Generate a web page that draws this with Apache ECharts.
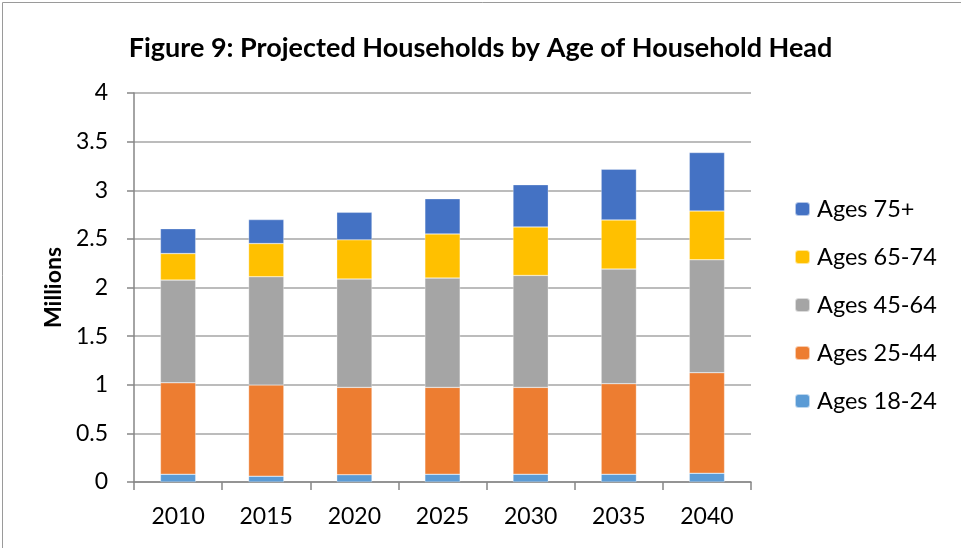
<!DOCTYPE html>
<html>
<head>
<meta charset="utf-8">
<script src="https://cdn.jsdelivr.net/npm/echarts@6/dist/echarts.min.js"></script>
<style>
  html, body { margin: 0; padding: 0; background: #fff; }
  #chart { width: 961px; height: 548px; }
</style>
</head>
<body>
<div id="chart"></div>
<script>
// categories and values (millions of households)
const years = ['2010', '2015', '2020', '2025', '2030', '2035', '2040']
const ages18to24 = [0.08, 0.06, 0.075, 0.08, 0.08, 0.08, 0.09]
const ages25to44 = [0.94, 0.937, 0.898, 0.893, 0.893, 0.931, 1.034]
const ages45to64 = [1.056, 1.114, 1.114, 1.124, 1.151, 1.178, 1.161]
const ages65to74 = [0.273, 0.341, 0.403, 0.454, 0.499, 0.506, 0.502]
const ages75plus = [0.256, 0.246, 0.283, 0.362, 0.434, 0.522, 0.601]

const font = 'Lato, "Open Sans", sans-serif'

const chart = echarts.init(document.getElementById('chart'))

const makeSeries = (name, data, color) => ({
  name,
  type: 'bar',
  stack: 'total',
  data,
  barWidth: '40%',
  itemStyle: {
    color,
    borderColor: 'rgba(255,255,255,0.6)',
    borderWidth: 0.5
  }
})

chart.setOption({
  animation: false,
  title: {
    text: 'Figure 9: Projected Households by Age of Household Head',
    left: 'center',
    top: 30,
    textStyle: { fontFamily: font, fontSize: 27, fontWeight: 'bold', color: '#000' }
  },
  graphic: [
    {
      type: 'rect',
      shape: { x: 2.5, y: 2.5, width: 1000, height: 600 },
      style: { fill: 'none', stroke: '#9a9a9a', lineWidth: 1 },
      silent: true
    }
  ],
  legend: {
    orient: 'vertical',
    left: 794,
    top: 197,
    padding: 0,
    itemWidth: 15,
    itemHeight: 14,
    itemGap: 24,
    data: ['Ages 75+', 'Ages 65-74', 'Ages 45-64', 'Ages 25-44', 'Ages 18-24'],
    textStyle: { fontFamily: font, fontSize: 23.5, color: '#000', padding: [0, 0, 0, 2] }
  },
  grid: { left: 134, right: 210, top: 93, bottom: 66 },
  xAxis: {
    type: 'category',
    data: years,
    axisLine: { lineStyle: { color: '#868686', width: 1.5 } },
    axisTick: { show: true, length: 8, lineStyle: { color: '#868686', width: 1.5 } },
    axisLabel: { fontFamily: font, fontSize: 23, color: '#000', margin: 23 }
  },
  yAxis: {
    type: 'value',
    min: 0,
    max: 4,
    interval: 0.5,
    name: 'Millions',
    nameLocation: 'middle',
    nameGap: 69,
    nameRotate: 90,
    nameTextStyle: { fontFamily: font, fontSize: 23, fontWeight: 'bold', color: '#000' },
    axisLine: { show: true, lineStyle: { color: '#868686', width: 1.5 } },
    axisTick: { show: true, length: 7, lineStyle: { color: '#868686', width: 1.5 } },
    axisLabel: { fontFamily: font, fontSize: 23, color: '#000', margin: 26 },
    splitLine: { lineStyle: { color: '#a6a6a6', width: 1.5 } }
  },
  series: [
    makeSeries('Ages 18-24', ages18to24, '#5B9BD5'),
    makeSeries('Ages 25-44', ages25to44, '#ED7D31'),
    makeSeries('Ages 45-64', ages45to64, '#A5A5A5'),
    makeSeries('Ages 65-74', ages65to74, '#FFC000'),
    makeSeries('Ages 75+', ages75plus, '#4472C4')
  ]
})
</script>
</body>
</html>
